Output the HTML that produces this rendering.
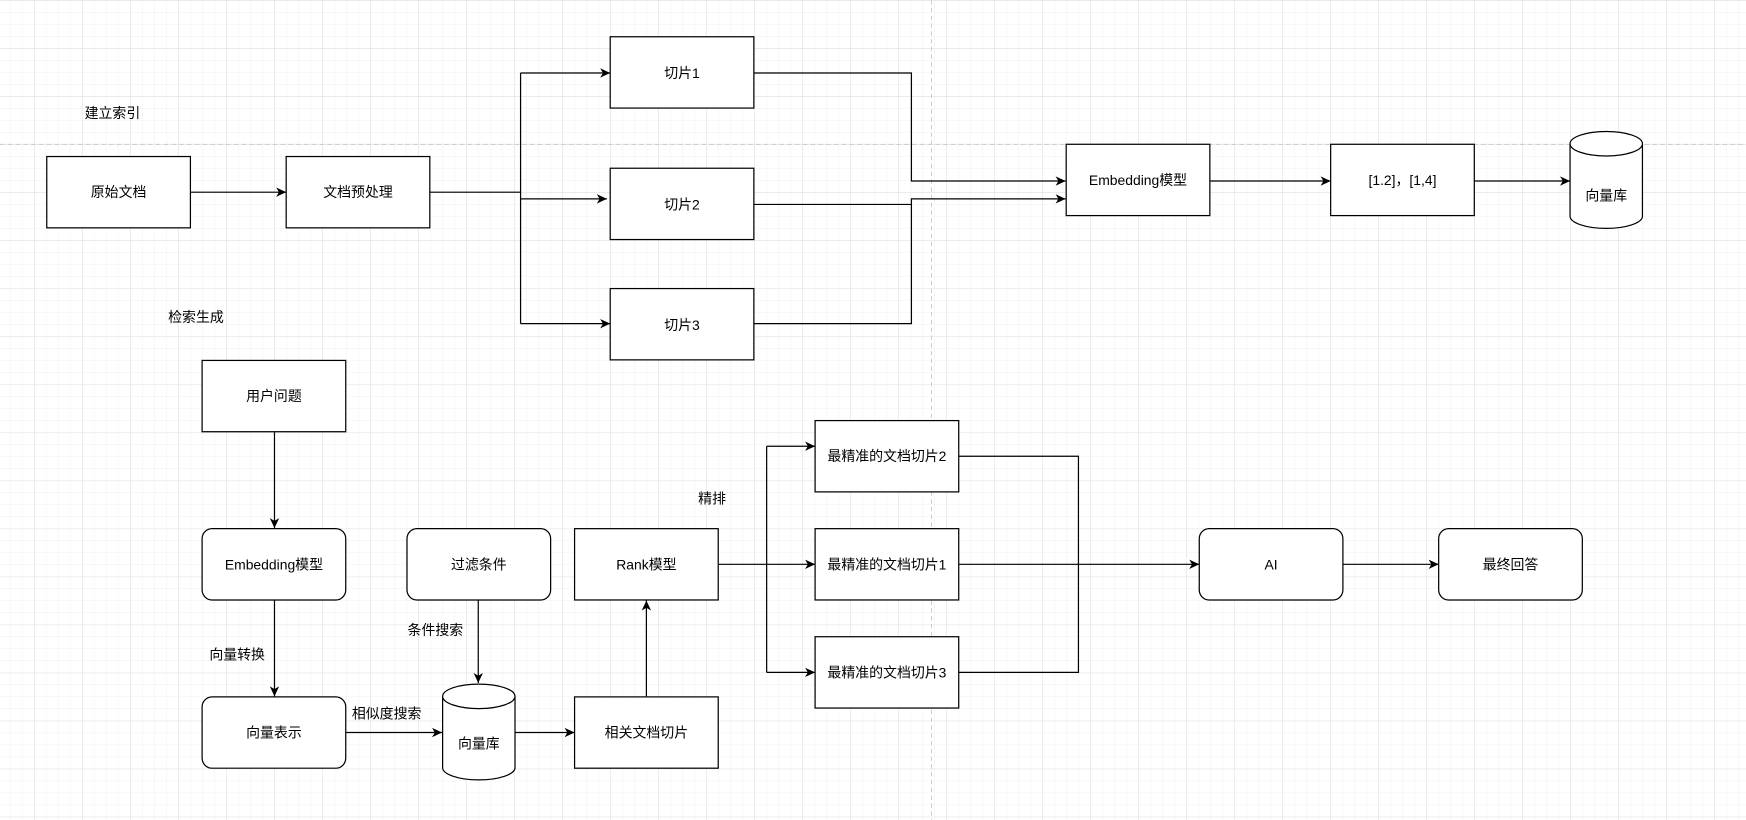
<!DOCTYPE html>
<html><head><meta charset="utf-8"><style>
html,body{margin:0;padding:0;background:#fff;}
svg{display:block;}
text{font-family:"Liberation Sans","Noto Sans CJK SC",sans-serif;font-size:12.5px;fill:#000;}
</style></head><body>
<svg width="1746" height="820" viewBox="0 0 1568 736" preserveAspectRatio="none" xmlns="http://www.w3.org/2000/svg">
<defs>
<pattern id="minor" x="30.9" y="0.4" width="10.78" height="10.78" patternUnits="userSpaceOnUse">
<path d="M10.78 0V10.78M0 10.78H10.78" stroke="#f0f0f0" stroke-width="0.8" fill="none"/>
</pattern>
<pattern id="major" x="30.9" y="0.4" width="43.1" height="43.1" patternUnits="userSpaceOnUse">
<path d="M0 0V43.1M0 0H43.1" stroke="#e2e2e2" stroke-width="0.9" fill="none"/>
</pattern>
<marker id="a" markerWidth="10" markerHeight="10" refX="9" refY="5" orient="auto" markerUnits="userSpaceOnUse">
<path d="M0,0.8 L9,5 L0,9.2 L2.5,5 Z" fill="#000"/>
</marker>
</defs>
<rect width="1568" height="736" fill="#fff"/>
<rect width="1568" height="736" fill="url(#minor)"/>
<rect width="1568" height="736" fill="url(#major)"/>
<line x1="0" y1="129.5" x2="1568" y2="129.5" stroke="#c8c8c8" stroke-dasharray="4,3" stroke-width="0.8"/>
<line x1="836.5" y1="0" x2="836.5" y2="736" stroke="#c8c8c8" stroke-dasharray="4,3" stroke-width="0.8"/>

<g fill="none" stroke="#000" stroke-width="1.1">
<!-- top flow -->
<line x1="171" y1="172.5" x2="257" y2="172.5" marker-end="url(#a)"/>
<polyline points="386,172.5 467.5,172.5"/>
<polyline points="467.5,65.5 467.5,290.5"/>
<line x1="467.5" y1="65.5" x2="548" y2="65.5" marker-end="url(#a)"/>
<line x1="467.5" y1="178.5" x2="545" y2="178.5" marker-end="url(#a)"/>
<line x1="467.5" y1="290.5" x2="548" y2="290.5" marker-end="url(#a)"/>
<polyline points="677,65.5 818.5,65.5 818.5,162.5 957,162.5" marker-end="url(#a)"/>
<polyline points="677,183.5 818.5,183.5"/>
<polyline points="677,290.5 818.5,290.5 818.5,178.5 957,178.5" marker-end="url(#a)"/>
<line x1="1087" y1="162.5" x2="1195" y2="162.5" marker-end="url(#a)"/>
<line x1="1324" y1="162.5" x2="1410" y2="162.5" marker-end="url(#a)"/>
<!-- bottom flow -->
<line x1="246.5" y1="388" x2="246.5" y2="474" marker-end="url(#a)"/>
<line x1="246.5" y1="539" x2="246.5" y2="625" marker-end="url(#a)"/>
<line x1="311" y1="657.5" x2="397" y2="657.5" marker-end="url(#a)"/>
<line x1="429.5" y1="539" x2="429.5" y2="613" marker-end="url(#a)"/>
<line x1="462" y1="657.5" x2="516" y2="657.5" marker-end="url(#a)"/>
<line x1="580.5" y1="625" x2="580.5" y2="539" marker-end="url(#a)"/>
<line x1="645" y1="506.5" x2="732" y2="506.5" marker-end="url(#a)"/>
<polyline points="688.5,400.5 688.5,603.5"/>
<line x1="688.5" y1="400.5" x2="732" y2="400.5" marker-end="url(#a)"/>
<line x1="688.5" y1="603.5" x2="732" y2="603.5" marker-end="url(#a)"/>
<polyline points="861,409.5 968.5,409.5 968.5,603.5 861,603.5"/>
<line x1="861" y1="506.5" x2="1077" y2="506.5" marker-end="url(#a)"/>
<line x1="1206" y1="506.5" x2="1292" y2="506.5" marker-end="url(#a)"/>
</g>

<g fill="#fff" stroke="#000" stroke-width="1.1">
<rect x="42" y="140.5" width="129" height="64"/>
<rect x="257" y="140.5" width="129" height="64"/>
<rect x="548" y="33" width="129" height="64"/>
<rect x="548" y="151" width="129" height="64"/>
<rect x="548" y="259" width="129" height="64"/>
<rect x="957.5" y="129.5" width="129" height="64"/>
<rect x="1195" y="129.5" width="129" height="64"/>
<path d="M1410,129 V194 A32.5,11 0 0 0 1475,194 V129 A32.5,11 0 0 0 1410,129 A32.5,11 0 0 0 1475,129"/>
<rect x="181.5" y="323.5" width="129" height="64"/>
<rect x="181.5" y="474.5" width="129" height="64" rx="9"/>
<rect x="181.5" y="625.5" width="129" height="64" rx="9"/>
<rect x="365.5" y="474.5" width="129" height="64" rx="9"/>
<path d="M397.5,625 V689 A32.5,11 0 0 0 462.5,689 V625 A32.5,11 0 0 0 397.5,625 A32.5,11 0 0 0 462.5,625"/>
<rect x="516" y="625.5" width="129" height="64"/>
<rect x="516" y="474.5" width="129" height="64"/>
<rect x="732" y="377.5" width="129" height="64"/>
<rect x="732" y="474.5" width="129" height="64"/>
<rect x="732" y="571.5" width="129" height="64"/>
<rect x="1077" y="474.5" width="129" height="64" rx="9"/>
<rect x="1292" y="474.5" width="129" height="64" rx="9"/>
</g>

<g text-anchor="middle">
<text x="106.5" y="177">原始文档</text>
<text x="321.5" y="177">文档预处理</text>
<text x="612.5" y="70">切片1</text>
<text x="612.5" y="188">切片2</text>
<text x="612.5" y="296">切片3</text>
<text x="1022" y="166">Embedding模型</text>
<text x="1259.5" y="166">[1.2]，[1,4]</text>
<text x="1442.5" y="180">向量库</text>
<text x="246" y="360">用户问题</text>
<text x="246" y="511">Embedding模型</text>
<text x="246" y="662">向量表示</text>
<text x="430" y="511">过滤条件</text>
<text x="430" y="672">向量库</text>
<text x="580.5" y="662">相关文档切片</text>
<text x="580.5" y="511">Rank模型</text>
<text x="796.5" y="414">最精准的文档切片2</text>
<text x="796.5" y="511">最精准的文档切片1</text>
<text x="796.5" y="608">最精准的文档切片3</text>
<text x="1141.5" y="511">AI</text>
<text x="1356.5" y="511">最终回答</text>
</g>
<text x="76" y="106">建立索引</text>
<text x="151" y="289">检索生成</text>
<text x="188" y="592">向量转换</text>
<text x="316" y="645">相似度搜索</text>
<text x="366" y="570">条件搜索</text>
<text x="627" y="452">精排</text>
</svg>
</body></html>
